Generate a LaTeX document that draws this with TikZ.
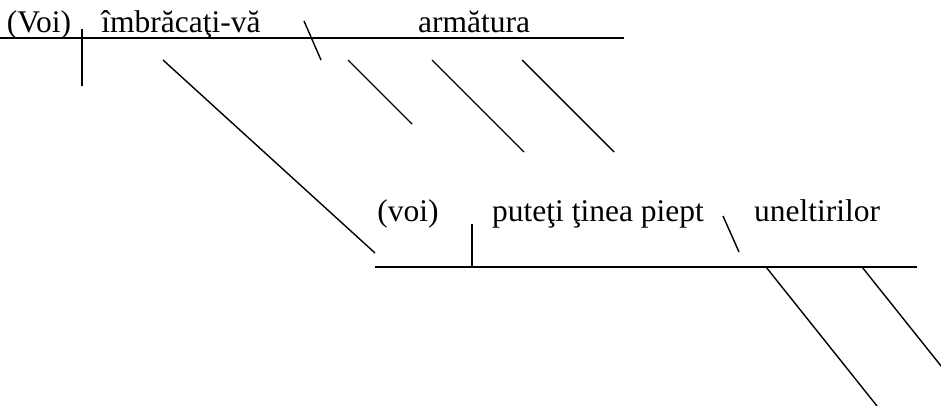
\documentclass[tikz,border=0pt]{standalone}
\usepackage{fontspec}
\setmainfont{Liberation Serif}
\usetikzlibrary{positioning}
\tikzset{word/.style={anchor=base,font=\fontsize{31.5}{34}\selectfont,inner sep=0pt}}

\begin{document}
\begin{tikzpicture}[x=1pt,y=-1pt,line width=1.4pt]
    \useasboundingbox (0,0) rectangle (941,406);
    % upper clause
    \coordinate (ta) at (0,38);
    \coordinate (tb) at (624,38);
    \draw (ta) -- (tb);
    \node[word] (subj) at (39,33) {(Voi)};
    \node[word] (pred) at (181,33) {îmbrăcaţi-vă};
    \node[word] (obj) at (474,33) {armătura};
    \coordinate (sa) at (82,29);
    \coordinate (sb) at (82,86);
    \draw (sa) -- (sb);
    \coordinate (oa) at (304,21);
    \coordinate (ob) at (321,60);
    \draw (oa) -- (ob);
    % modifiers
    \coordinate (la) at (163,60);
    \coordinate (lb) at (375,253);
    \draw (la) -- (lb);
    \foreach \x/\y/\n in {348/124/1,432/152/2,522/152/3}{
        \coordinate (m\n a) at (\x,60);
        \coordinate (m\n b) at (\x+\y-60,\y);
        \draw (m\n a) -- (m\n b);
    }
    % lower clause
    \coordinate (ba) at (375,267);
    \coordinate (bb) at (917,267);
    \draw (ba) -- (bb);
    \node[word] (subj2) at (408,221) {(voi)};
    \node[word] (pred2) at (598,221) {puteţi ţinea piept};
    \node[word] (obj2) at (817,221) {uneltirilor};
    \coordinate (va) at (472,224);
    \coordinate (vb) at (472,267);
    \draw (va) -- (vb);
    \coordinate (ca) at (723,216);
    \coordinate (cb) at (739,252);
    \draw (ca) -- (cb);
    \coordinate (da) at (766,267);
    \coordinate (db) at (877,406);
    \draw (da) -- (db);
    \coordinate (ea) at (862,267);
    \coordinate (eb) at (973,406);
    \draw (ea) -- (eb);
\end{tikzpicture}
\end{document}
